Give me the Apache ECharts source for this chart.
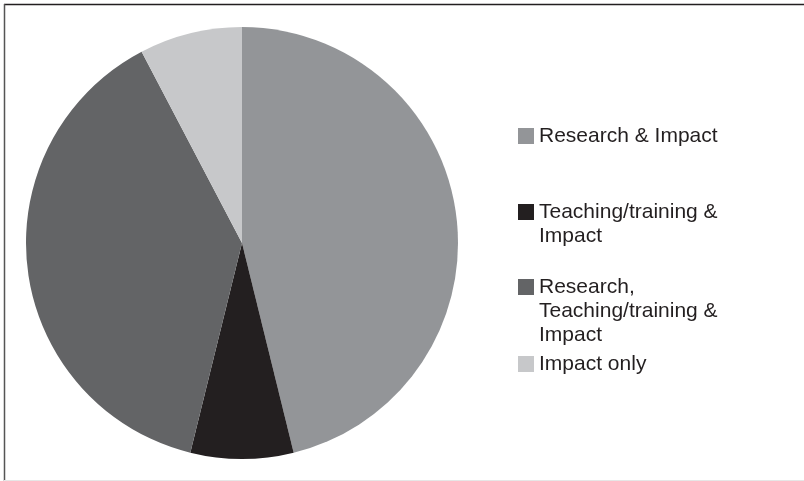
<!DOCTYPE html>
<html>
<head>
<meta charset="utf-8">
<script src="https://cdn.jsdelivr.net/npm/echarts@6/dist/echarts.min.js"></script>
<style>
html,body{margin:0;padding:0;background:#fff;}
#chart{width:804px;height:481px;}
</style>
</head>
<body>
<div id="chart"></div>
<script>
const categories = ['Research & Impact', 'Teaching/training &\nImpact', 'Research,\nTeaching/training &\nImpact', 'Impact only'];
const values = [12, 2, 10, 2];
const colors = ['#939598', '#231f20', '#636466', '#c7c8ca'];

const LH = 24;
const iconTops = [128, 204, 279, 356];
const legends = categories.map((name, i) => {
  const n = name.split('\n').length;
  const offset = (2 * n - 1) * LH / 2 - 8;
  return {
    data: [name],
    orient: 'vertical',
    left: 518,
    top: iconTops[i] - offset,
    padding: 0,
    itemWidth: 16,
    itemHeight: 16,
    itemGap: 0,
    icon: 'rect',
    selectedMode: false,
    formatter: (nm) => '\u00a0\n'.repeat(n - 1) + nm,
    textStyle: {
      fontFamily: 'Liberation Sans, Arial, sans-serif',
      fontSize: 21,
      lineHeight: LH,
      color: '#231f20'
    }
  };
});

const chart = echarts.init(document.getElementById('chart'), null, {renderer: 'canvas'});
chart.setOption({
  animation: false,
  backgroundColor: '#fff',
  color: colors,
  legend: legends,
  graphic: [
    {type: 'line', shape: {x1: 4, y1: 4.5, x2: 804, y2: 4.5}, style: {stroke: '#231f20', lineWidth: 1.5}},
    {type: 'line', shape: {x1: 4.5, y1: 4, x2: 4.5, y2: 481}, style: {stroke: '#555555', lineWidth: 1.5}},
    {type: 'line', shape: {x1: 4, y1: 480.5, x2: 804, y2: 480.5}, style: {stroke: '#e6e6e6', lineWidth: 1}}
  ],
  series: [{
    type: 'pie',
    center: [242, 243],
    radius: [0, 216],
    startAngle: 90,
    clockwise: true,
    label: {show: false},
    labelLine: {show: false},
    itemStyle: {borderWidth: 0},
    emphasis: {disabled: true},
    data: categories.map((c, i) => ({name: c, value: values[i]}))
  }]
});
</script>
</body>
</html>
